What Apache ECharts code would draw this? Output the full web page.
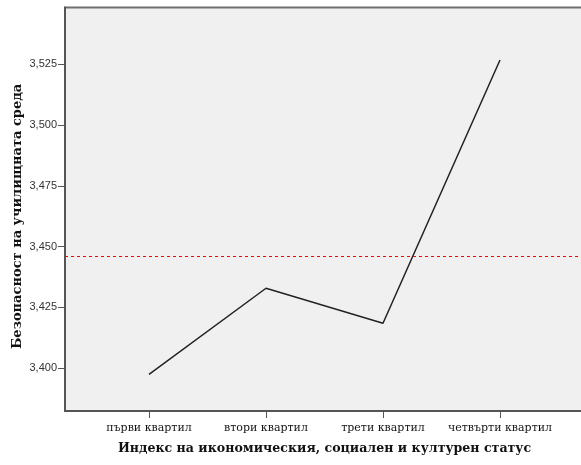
<!DOCTYPE html>
<html><head><meta charset="utf-8">
<script src="https://cdn.jsdelivr.net/npm/echarts@6/dist/echarts.min.js"></script>
<style>html,body{margin:0;padding:0;background:#fff}#c{width:581px;height:465px}</style>
</head><body><div id="c"></div>
<script>
const categories = ['първи квартил', 'втори квартил', 'трети квартил', 'четвърти квартил'];
const meanValues = [3.3975, 3.4329, 3.4185, 3.5268];
const referenceLine = 3.4462;
const yTicks = [3.400, 3.425, 3.450, 3.475, 3.500, 3.525];
const xTitle = 'Индекс на икономическия, социален и културен статус';
const yTitle = 'Безопасност на училищната среда';

const chart = echarts.init(document.getElementById('c'), null, {renderer: 'canvas'});
const catIdx = categories.map((c, i) => i + 1);
chart.setOption({
  animation: false,
  backgroundColor: '#ffffff',
  grid: {left: 65, top: 7.5, width: 519, bottom: 54, show: true, outerBoundsMode: 'none', containLabel: false,
         backgroundColor: '#f0f0f0', borderColor: '#6e6e6e', borderWidth: 2},
  xAxis: {
    type: 'value', min: 0.282, max: 4.718,
    splitLine: {show: false},
    axisLine: {show: true, lineStyle: {color: '#555', width: 2}},
    axisTick: {show: true, length: 7, lineStyle: {color: '#555', width: 1}, customValues: catIdx},
    axisLabel: {customValues: catIdx, formatter: v => categories[Math.round(v) - 1] || '',
      fontFamily: 'DejaVu Serif', fontSize: 11, color: '#111', margin: 12},
    name: xTitle, nameLocation: 'middle', nameGap: 31, nameMoveOverlap: false,
    nameTextStyle: {fontFamily: 'DejaVu Serif', fontWeight: 'bold', fontSize: 12.6, color: '#111'}
  },
  yAxis: {
    type: 'value', min: 3.3824, max: 3.5484,
    splitLine: {show: false},
    axisLine: {show: true, lineStyle: {color: '#555', width: 2}},
    axisTick: {show: true, length: 7, lineStyle: {color: '#555', width: 1}, customValues: yTicks},
    axisLabel: {customValues: yTicks, formatter: v => v.toFixed(3).replace('.', ','),
      fontFamily: 'Liberation Sans', fontSize: 11, color: '#333', margin: 8},
    name: yTitle, nameLocation: 'middle', nameGap: 41, nameRotate: 90, nameMoveOverlap: false,
    nameTextStyle: {fontFamily: 'DejaVu Serif', fontWeight: 'bold', fontSize: 13, color: '#111', padding: [0, 14, 0, 0]}
  },
  series: [{
    type: 'line',
    data: meanValues.map((v, i) => [catIdx[i], v]),
    symbol: 'none',
    lineStyle: {color: '#222', width: 1.5},
    markLine: {
      silent: true, symbol: 'none', label: {show: false}, precision: 5,
      lineStyle: {color: '#ff0000', type: [3, 3], width: 1},
      data: [{yAxis: referenceLine}]
    }
  }]
});
</script></body></html>
